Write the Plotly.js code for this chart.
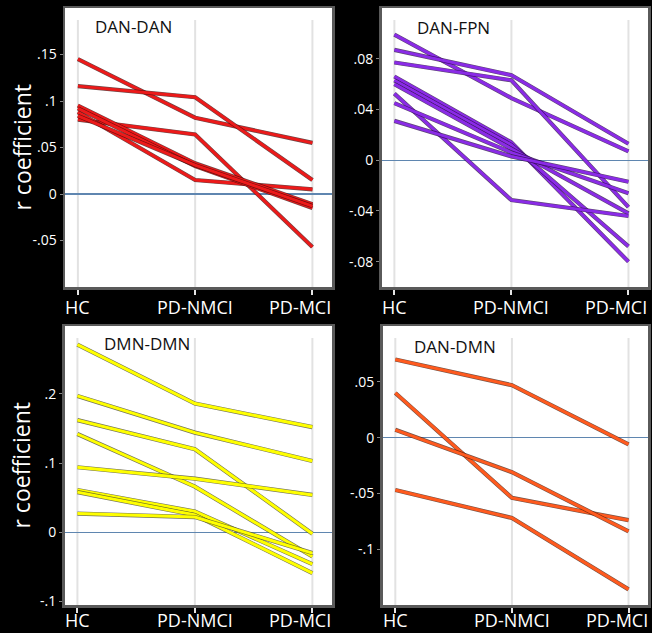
<!DOCTYPE html>
<html>
<head>
<meta charset="utf-8">
<script src="https://cdn.plot.ly/plotly-3.0.1.min.js"></script>
<style>
  html, body { margin: 0; padding: 0; background: #000; }
  #chart { width: 652px; height: 633px; }
</style>
</head>
<body>
<div id="chart"></div>
<script>
// ---- data ----
const categories = ['HC', 'PD-NMCI', 'PD-MCI'];

const panelNames = ['DAN-DAN', 'DAN-FPN', 'DMN-DMN', 'DAN-DMN'];

const danDan = [
  [0.145, 0.082, 0.055],
  [0.116, 0.104, 0.015],
  [0.080, 0.064, -0.057],
  [0.088, 0.015, 0.005],
  [0.095, 0.033, -0.011],
  [0.092, 0.030, -0.015],
  [0.084, 0.031, -0.013]
];

const danFpn = [
  [0.099, 0.049, 0.007],
  [0.087, 0.067, 0.013],
  [0.077, 0.063, -0.037],
  [0.066, 0.014, -0.080],
  [0.063, 0.012, -0.068],
  [0.060, 0.009, -0.042],
  [0.0525, -0.0315, -0.044],
  [0.045, 0.006, -0.026],
  [0.031, 0.003, -0.017]
];

const dmnDmn = [
  [0.271, 0.186, 0.152],
  [0.197, 0.144, 0.103],
  [0.162, 0.120, -0.002],
  [0.142, 0.066, -0.035],
  [0.094, 0.0775, 0.054],
  [0.061, 0.030, -0.046],
  [0.058, 0.025, -0.059],
  [0.027, 0.022, -0.030]
];

const danDmn = [
  [0.070, 0.047, -0.006],
  [0.040, -0.054, -0.074],
  [0.007, -0.031, -0.084],
  [-0.047, -0.072, -0.136]
];

const tickVals1 = [-0.05, 0, 0.05, 0.1, 0.15];
const tickText1 = ['-.05', '0', '.05', '.1', '.15'];
const tickVals2 = [-0.08, -0.04, 0, 0.04, 0.08];
const tickText2 = ['-.08', '-.04', '0', '.04', '.08'];
const tickVals3 = [-0.1, 0, 0.1, 0.2];
const tickText3 = ['-.1', '0', '.1', '.2'];
const tickVals4 = [-0.1, -0.05, 0, 0.05];
const tickText4 = ['-.1', '-.05', '0', '.05'];

// ---- styling ----
const FONT = '"Open Sans", "Noto Sans", "DejaVu Sans", sans-serif';
const panels = [
  {data: danDan, color: '#ec1a1a', edge: 'rgba(60,10,10,0.75)', xa: 'x',  ya: 'y',  range: [-0.1, 0.2],     tv: tickVals1, tt: tickText1},
  {data: danFpn, color: '#8a2be6', edge: 'rgba(40,10,70,0.75)', xa: 'x2', ya: 'y2', range: [-0.1, 0.12],    tv: tickVals2, tt: tickText2},
  {data: dmnDmn, color: '#ffff00', edge: 'rgba(80,80,50,0.8)',  xa: 'x3', ya: 'y3', range: [-0.105, 0.298], tv: tickVals3, tt: tickText3},
  {data: danDmn, color: '#ff5a1e', edge: 'rgba(70,25,10,0.75)', xa: 'x4', ya: 'y4', range: [-0.15, 0.1],    tv: tickVals4, tt: tickText4}
];

const traces = [];
panels.forEach(p => {
  p.data.forEach(series => {
    traces.push({
      x: categories, y: series, xaxis: p.xa, yaxis: p.ya,
      type: 'scatter', mode: 'lines', hoverinfo: 'skip', showlegend: false,
      line: {color: p.edge, width: 4.2}
    });
    traces.push({
      x: categories, y: series, xaxis: p.xa, yaxis: p.ya,
      type: 'scatter', mode: 'lines', showlegend: false,
      line: {color: p.color, width: 3.0}
    });
  });
});

const W = 652, H = 633;
const boxes = [
  {x0: 65,    x1: 332, y0: 8,   y1: 287},
  {x0: 381.5, x1: 648, y0: 8,   y1: 287},
  {x0: 64.5,  x1: 332, y0: 326, y1: 605},
  {x0: 382.5, x1: 648, y0: 326, y1: 605}
];
const labelGap = [6, 6, 1, 1];          // px between frame and category label box
const labelShift = [0, 0, -12];         // the last label sits left of its tick

const layout = {
  width: W, height: H,
  paper_bgcolor: '#000', plot_bgcolor: '#fff',
  margin: {l: 0, r: 0, t: 0, b: 0},
  font: {family: FONT, color: '#fff'},
  showlegend: false,
  shapes: [],
  annotations: []
};

const titleX = [0.105, 0.127, 0.139, 0.111];
const titleY = [0.932, 0.93, 0.936, 0.928];

panels.forEach((p, i) => {
  const b = boxes[i];
  const sfx = i === 0 ? '' : String(i + 1);
  layout['xaxis' + sfx] = {
    domain: [b.x0 / W, b.x1 / W],
    anchor: 'y' + sfx,
    type: 'category',
    range: [-0.11, 2.167],
    showticklabels: false,
    showgrid: false, zeroline: false,
    showline: true, mirror: true, linecolor: '#5a5a5a', linewidth: 2.5,
    ticks: 'outside', ticklen: 5, tickwidth: 2, tickcolor: '#e4e4e4',
    fixedrange: true
  };
  layout['yaxis' + sfx] = {
    domain: [1 - b.y1 / H, 1 - b.y0 / H],
    anchor: 'x' + sfx,
    range: p.range,
    tickvals: p.tv, ticktext: p.tt,
    showgrid: false,
    zeroline: true, zerolinecolor: '#5f86b0', zerolinewidth: 1.3,
    showline: true, mirror: true, linecolor: '#5a5a5a', linewidth: 2.5,
    ticks: 'outside', ticklen: 3, tickwidth: 1, tickcolor: '#888',
    tickfont: {family: FONT, size: 14, color: '#fff'},
    fixedrange: true
  };
  if (i === 0 || i === 2) {
    layout.annotations.push({
      text: 'r coefficient',
      xref: 'paper', yref: 'paper',
      x: 21 / W, y: 1 - ((b.y0 + b.y1) / 2) / H,
      xanchor: 'center', yanchor: 'middle',
      textangle: -90, showarrow: false,
      font: {family: FONT, size: 23, color: '#fff'}
    });
  }
  categories.forEach((c, k) => {
    // vertical light-grey guide line at each category
    layout.shapes.push({
      type: 'line', xref: p.xa, yref: p.ya + ' domain',
      x0: c, x1: c, y0: 0, y1: 0.957,
      line: {color: '#e2e2e2', width: 2},
      layer: 'below'
    });
    // category label under the panel
    layout.annotations.push({
      text: c,
      xref: p.xa, yref: p.ya + ' domain',
      x: c, y: 0, xanchor: 'center', yanchor: 'top',
      xshift: labelShift[k], yshift: -labelGap[i],
      showarrow: false,
      font: {family: FONT, size: 18, color: '#fff'}
    });
  });
  layout.annotations.push({
    text: panelNames[i],
    xref: p.xa + ' domain', yref: p.ya + ' domain',
    x: titleX[i], y: titleY[i], xanchor: 'left', yanchor: 'middle',
    showarrow: false,
    font: {family: FONT, size: 17, color: '#111'}
  });
});

Plotly.newPlot('chart', traces, layout, {displayModeBar: false, staticPlot: true});
</script>
</body>
</html>
